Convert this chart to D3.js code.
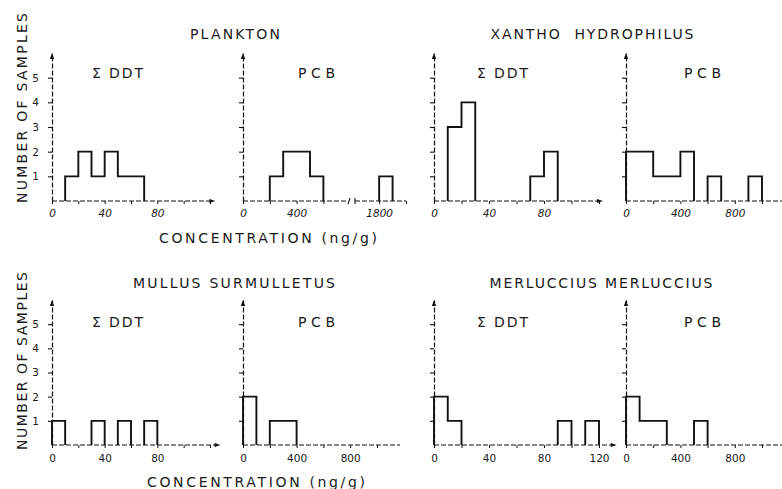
<!DOCTYPE html>
<html>
<head>
<meta charset="utf-8">
<script src="https://cdn.jsdelivr.net/npm/d3@7"></script>
<style>
  body { margin: 0; background: #fff; }
  svg { display: block; }
  text { font-family: "DejaVu Sans", "Liberation Sans", sans-serif; fill: #1a1a1a; }
</style>
</head>
<body>
<svg id="chart" width="782" height="489"></svg>
<script>
// Number of samples per concentration bin (ng/g).
// Sum-DDT bins are 10 ng/g wide, PCB bins are 100 ng/g wide; each array holds bin starts.
const planktonDdtBins = [10, 20, 30, 40, 50, 60];
const planktonDdtCounts = [1, 2, 1, 2, 1, 1];
const planktonPcbBins = [200, 300, 400, 500, 1800];
const planktonPcbCounts = [1, 2, 2, 1, 1];

const xanthoDdtBins = [10, 20, 70, 80];
const xanthoDdtCounts = [3, 4, 1, 2];
const xanthoPcbBins = [0, 100, 200, 300, 400, 600, 900];
const xanthoPcbCounts = [2, 2, 1, 1, 2, 1, 1];

const mullusDdtBins = [0, 30, 50, 70];
const mullusDdtCounts = [1, 1, 1, 1];
const mullusPcbBins = [0, 200, 300];
const mullusPcbCounts = [2, 1, 1];

const merlucciusDdtBins = [0, 10, 90, 110];
const merlucciusDdtCounts = [2, 1, 1, 1];
const merlucciusPcbBins = [0, 100, 200, 500];
const merlucciusPcbCounts = [2, 1, 1, 1];

const ddtBinWidth = 10;
const pcbBinWidth = 100;

// Axis ticks and labels
const countTicks = [1, 2, 3, 4, 5];
const ddtMinorTicks = [0, 20, 40, 60, 80, 100, 120];
const pcbMinorTicks = [0, 200, 400, 600, 800, 1000];
const planktonPcbMinorTicks = [0, 200, 400, 600, 1800, 2000];
const ddtTickLabels = [0, 40, 80];
const ddtTickLabelsWide = [0, 40, 80, 120];
const pcbTickLabels = [0, 400, 800];
const planktonPcbTickLabels = [0, 400, 1800];

const speciesNames = ["PLANKTON", "XANTHO  HYDROPHILUS", "MULLUS SURMULLETUS", "MERLUCCIUS MERLUCCIUS"];
const compoundNames = ["\u03A3 DDT", "PCB"];
const xAxisTitle = "CONCENTRATION (ng/g)";
const yAxisTitle = "NUMBER OF SAMPLES";

// ---- layout ----
const svg = d3.select("#chart");
const rows = [
  { base: 201, top: 53, titleY: 39, labelY: 78, tickDy: 9, italic: true, xTitleY: 243, xTitleX: 159, yTitleY: 108, yTitleLen: 190 },
  { base: 445, top: 300, titleY: 288, labelY: 327, tickDy: 10, italic: false, xTitleY: 487, xTitleX: 147, yTitleY: 361, yTitleLen: 178 }
];
const cols = [
  { ddt: [52, 210], pcb: [243, 400], ddtLabelX: 92, pcbLabelX: 298, pcbPxPerUnit: 0.134 },
  { ddt: [434, 599], pcb: [626, 782], ddtLabelX: 477, pcbLabelX: 684, pcbPxPerUnit: 0.136 }
];

const species = [
  { name: speciesNames[0], row: 0, col: 0, titleX: 235, titleLen: 90,
    ddt: { bins: planktonDdtBins, counts: planktonDdtCounts, end: 121, labels: ddtTickLabels },
    pcb: { bins: planktonPcbBins, counts: planktonPcbCounts, labels: planktonPcbTickLabels,
           minor: planktonPcbMinorTicks, broken: true } },
  { name: speciesNames[1], row: 0, col: 1, titleX: 592, titleLen: 203,
    ddt: { bins: xanthoDdtBins, counts: xanthoDdtCounts, end: 120, labels: ddtTickLabels },
    pcb: { bins: xanthoPcbBins, counts: xanthoPcbCounts, labels: pcbTickLabels, minor: pcbMinorTicks } },
  { name: speciesNames[2], row: 1, col: 0, titleX: 234, titleLen: 202,
    ddt: { bins: mullusDdtBins, counts: mullusDdtCounts, end: 125, labels: ddtTickLabels },
    pcb: { bins: mullusPcbBins, counts: mullusPcbCounts, labels: pcbTickLabels, minor: pcbMinorTicks } },
  { name: speciesNames[3], row: 1, col: 1, titleX: 601, titleLen: 223,
    ddt: { bins: merlucciusDdtBins, counts: merlucciusDdtCounts, end: 130, labels: ddtTickLabelsWide },
    pcb: { bins: merlucciusPcbBins, counts: merlucciusPcbCounts, labels: pcbTickLabels, minor: pcbMinorTicks } }
];

// Turn bins/counts into outline polylines: contiguous bins share one stepped outline.
function outlines(bins, counts, width) {
  const groups = [];
  let cur = null;
  bins.forEach((b, i) => {
    if (cur && Math.abs(cur.end - b) < 1e-9) {
      cur.items.push([b, counts[i]]);
      cur.end = b + width;
    } else {
      cur = { items: [[b, counts[i]]], end: b + width };
      groups.push(cur);
    }
  });
  return groups.map(g => {
    const pts = [[g.items[0][0], 0]];
    g.items.forEach(([b, c]) => { pts.push([b, c]); pts.push([b + width, c]); });
    pts.push([g.end, 0]);
    return pts;
  });
}

function arrowUp(g, x, y) {
  g.append("path").attr("d", `M${x},${y} L${x - 2.2},${y + 6} L${x + 2.2},${y + 6} Z`).attr("fill", "#111");
}
function arrowRight(g, x, y) {
  g.append("path").attr("d", `M${x + 4},${y} L${x - 2},${y - 2} L${x - 2},${y + 2} Z`).attr("fill", "#111");
}

function drawPanel(spec, kind, row, col, showCountLabels) {
  const g = svg.append("g");
  const y = d3.scaleLinear().domain([0, 6]).range([row.base, row.top]);
  let x;
  let axisEnd;
  if (kind === "ddt") {
    x = d3.scaleLinear().domain([0, 120]).range(col.ddt);
    axisEnd = spec.end;
  } else if (spec.broken) {
    // broken concentration axis: 0-780 then 1620-2000
    x = d3.scaleLinear().domain([0, 780, 1620, 2000]).range([243, 347.5, 355, 406]);
    axisEnd = 2000;
  } else {
    x = d3.scaleLinear().domain([0, (col.pcb[1] - col.pcb[0]) / col.pcbPxPerUnit]).range(col.pcb);
    axisEnd = x.domain()[1];
  }

  // y axis (dashed line, ticks to the left)
  const yAxis = d3.axisLeft(y).tickValues(countTicks).tickSize(4).tickSizeOuter(0).tickPadding(9)
    .tickFormat(showCountLabels ? d3.format("d") : () => "");
  const ya = g.append("g").attr("transform", `translate(${x(0)},0)`).call(yAxis);
  ya.select(".domain").attr("stroke", "#111").attr("stroke-width", 1.2).attr("stroke-dasharray", "5,2");
  ya.selectAll(".tick line").attr("stroke", "#111").attr("stroke-width", 1.1);
  ya.selectAll(".tick text").attr("font-size", 10.5).attr("fill", "#1a1a1a")
    .style("font-family", "'DejaVu Sans', sans-serif");
  arrowUp(g, x(0), row.top);

  // x axis
  const minor = kind === "ddt" ? ddtMinorTicks : spec.minor;
  const xAxis = d3.axisBottom(x).tickValues(minor).tickSize(3).tickSizeOuter(0).tickPadding(row.tickDy - 3)
    .tickFormat(d => spec.labels.includes(d) ? String(d) : "");
  const xa = g.append("g").attr("transform", `translate(0,${row.base})`).call(xAxis);
  xa.select(".domain").remove();
  xa.selectAll(".tick line").attr("stroke", "#111").attr("stroke-width", 1);
  xa.selectAll(".tick text").attr("font-size", 10.5).attr("fill", "#1a1a1a")
    .style("font-family", "'DejaVu Sans', sans-serif")
    .style("font-style", row.italic ? "italic" : "normal");

  const base = g.append("g").attr("stroke", "#111").attr("stroke-width", 1.2).attr("stroke-dasharray", "5,2").attr("fill", "none");
  if (spec.broken) {
    base.append("line").attr("x1", x(0)).attr("x2", x(780)).attr("y1", row.base).attr("y2", row.base);
    base.append("line").attr("x1", x(1620)).attr("x2", x(axisEnd)).attr("y1", row.base).attr("y2", row.base);
    const brk = g.append("g").attr("stroke", "#111").attr("stroke-width", 1.1);
    brk.append("line").attr("x1", x(780) + 0.5).attr("x2", x(780) + 2.5).attr("y1", row.base + 3).attr("y2", row.base - 3);
    brk.append("line").attr("x1", x(1620)).attr("x2", x(1620)).attr("y1", row.base + 3).attr("y2", row.base - 3);
  } else {
    base.append("line").attr("x1", x(0)).attr("x2", x(axisEnd)).attr("y1", row.base).attr("y2", row.base);
    if (kind === "ddt") arrowRight(g, x(axisEnd), row.base);
  }

  // histogram outline
  const line = d3.line().x(d => x(d[0])).y(d => y(d[1]));
  const width = kind === "ddt" ? ddtBinWidth : pcbBinWidth;
  g.selectAll("path.hist")
    .data(outlines(spec.bins, spec.counts, width))
    .join("path")
    .attr("class", "hist")
    .attr("d", line)
    .attr("fill", "none")
    .attr("stroke", "#111")
    .attr("stroke-width", 1.9)
    .attr("stroke-linejoin", "miter");

  // panel label
  const label = kind === "ddt" ? compoundNames[0] : compoundNames[1];
  const lx = kind === "ddt" ? col.ddtLabelX : col.pcbLabelX;
  g.append("text").attr("x", lx).attr("y", row.labelY)
    .attr("font-size", 14).attr("textLength", kind === "ddt" ? 51 : 37).attr("lengthAdjust", "spacing")
    .text(label);
}

species.forEach(s => {
  const row = rows[s.row], col = cols[s.col];
  drawPanel(s.ddt, "ddt", row, col, s.col === 0);
  drawPanel(s.pcb, "pcb", row, col, false);
  svg.append("text").attr("x", s.titleX).attr("y", row.titleY).attr("text-anchor", "middle")
    .attr("font-size", 14).attr("textLength", s.titleLen).attr("lengthAdjust", "spacing")
    .style("white-space", "pre")
    .text(s.name);
});

rows.forEach(row => {
  svg.append("text").attr("x", row.xTitleX).attr("y", row.xTitleY)
    .attr("font-size", 14).attr("textLength", 218).attr("lengthAdjust", "spacing")
    .text(xAxisTitle);
  svg.append("text").attr("transform", `translate(27,${row.yTitleY}) rotate(-90)`)
    .attr("text-anchor", "middle").attr("font-size", 14)
    .attr("textLength", row.yTitleLen).attr("lengthAdjust", "spacing")
    .text(yAxisTitle);
});
</script>
</body>
</html>
